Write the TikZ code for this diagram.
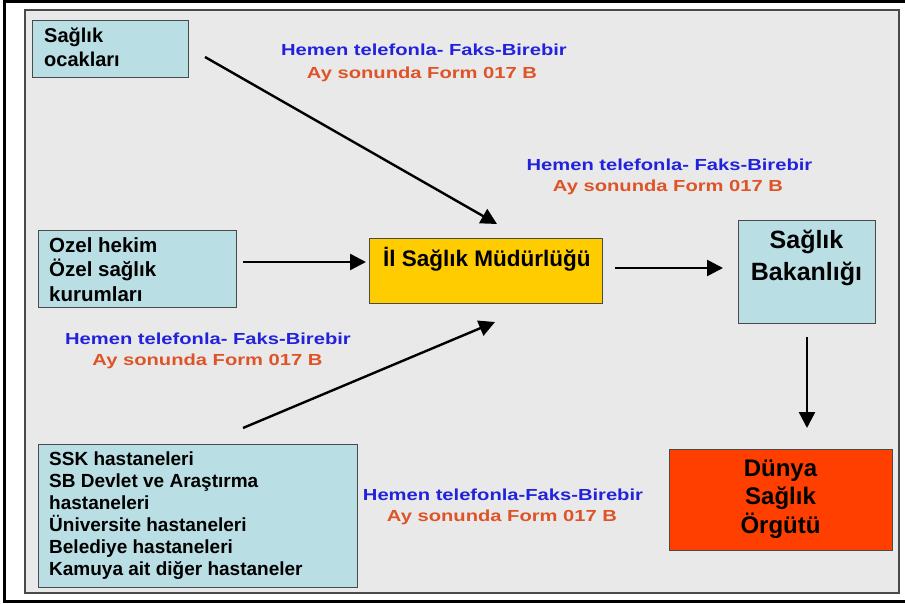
\documentclass[tikz,border=0pt]{standalone}
\usepackage{fontspec}
\setmainfont{Liberation Sans}
\newfontfamily\widefont[FakeStretch=1.26]{Liberation Sans}
\usetikzlibrary{arrows.meta}
\definecolor{boxblue}{HTML}{B9DEE4}
\definecolor{boxyellow}{HTML}{FFCC00}
\definecolor{boxred}{HTML}{FF3F00}
\definecolor{bggray}{HTML}{E9E9E9}
\definecolor{framegray}{HTML}{4A4A4A}
\definecolor{lblblue}{HTML}{2222DD}
\definecolor{lblorange}{HTML}{DE5428}
\tikzset{
  box/.style={draw=framegray, line width=1.4pt, rectangle, anchor=north west, inner sep=0pt},
  bluebox/.style={box, fill=boxblue},
  boxtxt/.style={inner sep=0pt, align=left, anchor=base west, text=black},
  lblb/.style={inner sep=0pt, anchor=base, text=lblblue, font=\widefont\bfseries\fontsize{16}{20}\selectfont},
  lblo/.style={inner sep=0pt, anchor=base, text=lblorange, font=\widefont\bfseries\fontsize{16}{20}\selectfont},
  flow/.style={line width=2.4pt, -{Triangle[length=16pt,width=16pt]}}
}
\begin{document}
\begin{tikzpicture}[x=1pt,y=-1pt]
\useasboundingbox (0,0) rectangle (905,604);
\fill[white] (0,0) rectangle (905,604);
\draw[line width=3.5pt] (906,1.5) -- (4.5,1.5) -- (4.5,601.5) -- (906,601.5);
\draw[fill=bggray, draw=framegray, line width=1.5pt] (25,10) rectangle (899,593);

% boxes (text nodes anchored at the baseline of their last line)
\node[bluebox, minimum width=156pt, minimum height=57pt] (ocak) at (32,20) {};
\node[boxtxt, font=\bfseries\fontsize{20}{24}\selectfont] (ocakt) at (44,67) {Sağlık\\ocakları};

\node[bluebox, minimum width=198pt, minimum height=77pt] (ozel) at (38,230) {};
\node[boxtxt, font=\bfseries\fontsize{20.5}{24.5}\selectfont] (ozelt) at (49,301) {Ozel hekim\\Özel sağlık\\kurumları};

\node[box, fill=boxyellow, minimum width=233pt, minimum height=65pt] (il) at (369,238) {};
\node[boxtxt, font=\bfseries\fontsize{22.5}{26}\selectfont] (ilt) at (383,266) {İl Sağlık Müdürlüğü};

\node[bluebox, minimum width=137pt, minimum height=103pt] (bak) at (738,220) {};
\node[boxtxt, align=center, anchor=base, font=\bfseries\fontsize{25}{32}\selectfont] (bakt) at (806.5,280) {Sağlık\\Bakanlığı};

\node[box, fill=boxred, minimum width=223pt, minimum height=101pt] (dso) at (669,449) {};
\node[boxtxt, align=center, anchor=base, font=\bfseries\fontsize{24}{28.5}\selectfont] (dsot) at (780.5,533) {Dünya\\Sağlık\\Örgütü};

\node[bluebox, minimum width=319pt, minimum height=143pt] (ssk) at (38,444) {};
\node[boxtxt, font=\bfseries\fontsize{19}{22}\selectfont] (sskt) at (49,575) {SSK hastaneleri\\SB Devlet ve Araştırma\\hastaneleri\\Üniversite hastaneleri\\Belediye hastaneleri\\Kamuya ait diğer hastaneler};

% labels
\node[lblb] (l1a) at (424,56) {Hemen telefonla- Faks-Birebir};
\node[lblo] (l1b) at (422,79) {Ay sonunda Form 017 B};
\node[lblb] (l2a) at (669.5,171) {Hemen telefonla- Faks-Birebir};
\node[lblo] (l2b) at (668,192) {Ay sonunda Form 017 B};
\node[lblb] (l3a) at (208,344) {Hemen telefonla- Faks-Birebir};
\node[lblo] (l3b) at (207.5,365) {Ay sonunda Form 017 B};
\node[lblb] (l4a) at (503,500) {Hemen telefonla-Faks-Birebir};
\node[lblo] (l4b) at (502,521) {Ay sonunda Form 017 B};

% connector ends
\coordinate (a1s) at (205,57);
\coordinate (a1e) at (497,224);
\coordinate (a2s) at (243,262);
\coordinate (a2e) at (366,262);
\coordinate (a3s) at (243,428);
\coordinate (a3e) at (495,322);
\coordinate (a4s) at (615,268);
\coordinate (a4e) at (723,268);
\coordinate (a5s) at (807,337);
\coordinate (a5e) at (807,428);

\draw[flow] (a1s) -- (a1e);
\draw[flow] (a2s) -- (a2e);
\draw[flow] (a3s) -- (a3e);
\draw[flow] (a4s) -- (a4e);
\draw[flow] (a5s) -- (a5e);
\end{tikzpicture}
\end{document}
